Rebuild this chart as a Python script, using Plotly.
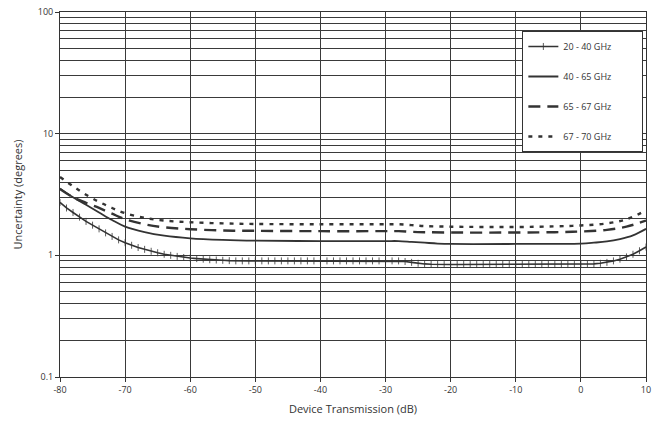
import plotly.graph_objects as go

# ---- data ----
x_2040 = list(range(-80, 11))
y_2040 = [2.72, 2.45, 2.25, 2.06, 1.90, 1.77, 1.65, 1.53, 1.43, 1.34,
          1.27, 1.21, 1.16, 1.12, 1.08, 1.05, 1.02, 1.00, 0.98, 0.96,
          0.95, 0.94, 0.93, 0.92, 0.915, 0.91, 0.905, 0.90, 0.90, 0.90,
          0.90, 0.90, 0.90, 0.90, 0.90, 0.90, 0.90, 0.90, 0.90, 0.90,
          0.90, 0.90, 0.90, 0.90, 0.90, 0.90, 0.90, 0.90, 0.90, 0.90,
          0.90, 0.90, 0.90, 0.89, 0.875, 0.86, 0.85, 0.845, 0.84, 0.84,
          0.84, 0.84, 0.84, 0.84, 0.84, 0.84, 0.84, 0.84, 0.84, 0.84,
          0.84, 0.84, 0.84, 0.84, 0.84, 0.84, 0.84, 0.84, 0.84, 0.84,
          0.84, 0.845, 0.85, 0.86, 0.875, 0.90, 0.93, 0.97, 1.02, 1.09,
          1.17]

x_4065 = [-80, -78, -76, -74, -72, -70, -67, -64, -60, -55, -50, -40, -30,
          -28, -26, -24, -22, -20, -10, 0, 2, 4, 6, 8, 10]
y_4065 = [3.55, 3.0, 2.6, 2.25, 1.95, 1.72, 1.55, 1.45, 1.38, 1.34, 1.32,
          1.31, 1.31, 1.31, 1.29, 1.27, 1.25, 1.24, 1.24, 1.25, 1.27, 1.30,
          1.36, 1.46, 1.65]

x_6567 = [-80, -78, -76, -74, -72, -70, -67, -64, -60, -55, -50, -40, -30,
          -28, -26, -24, -20, -10, -4, 0, 4, 7, 10]
y_6567 = [3.5, 3.0, 2.7, 2.45, 2.2, 1.98, 1.8, 1.7, 1.64, 1.6, 1.59, 1.58,
          1.58, 1.58, 1.56, 1.55, 1.54, 1.54, 1.55, 1.57, 1.62, 1.72, 1.93]

x_6770 = [-80, -78, -76, -74, -72, -70, -67, -64, -60, -55, -50, -40, -30,
          -28, -26, -24, -20, -10, -4, 0, 4, 7, 10]
y_6770 = [4.4, 3.7, 3.15, 2.75, 2.45, 2.22, 2.03, 1.93, 1.87, 1.83, 1.81, 1.8,
          1.8, 1.8, 1.77, 1.74, 1.72, 1.71, 1.73, 1.76, 1.83, 1.98, 2.34]

names = ["20 - 40 GHz", "40 - 65 GHz", "65 - 67 GHz", "67 - 70 GHz"]
x_ticks = [-80, -70, -60, -50, -40, -30, -20, -10, 0, 10]
x_ticktext = ["-80", "-70", "-60", "-50", "-40", "-30", "-20", "-10", "0", "10"]
y_ticks = [0.1, 1, 10, 100]
y_ticktext = ["0.1", "1", "10", "100"]

INK = "#333333"
GRID = "#3a3a3a"
FONT = "Open Sans"
PAD = "\u00a0" * 11  # widens the legend box to the right like the reference

fig = go.Figure()
fig.add_trace(go.Scatter(
    x=x_2040, y=y_2040, name=names[0] + PAD, mode="lines+markers",
    line=dict(color=INK, width=1.6),
    marker=dict(symbol="line-ns", size=5, line=dict(color=INK, width=0.8)),
    legendgroup="a"))
fig.add_trace(go.Scatter(
    x=x_4065, y=y_4065, name=names[1] + PAD, mode="lines",
    line=dict(color=INK, width=1.8, shape="spline"), legendgroup="b"))
fig.add_trace(go.Scatter(
    x=x_6567, y=y_6567, name=names[2] + PAD, mode="lines",
    line=dict(color=INK, width=2.4, dash="12px,7px", shape="spline"),
    legendgroup="c"))
fig.add_trace(go.Scatter(
    x=x_6770, y=y_6770, name=names[3] + PAD, mode="lines",
    line=dict(color=INK, width=2.4, dash="4px,6px", shape="spline"),
    legendgroup="d"))

fig.update_layout(
    width=653, height=425,
    margin=dict(l=60, r=7, t=12, b=48),
    paper_bgcolor="white", plot_bgcolor="white",
    font=dict(family=FONT, size=9, color=INK),
    legend=dict(x=0.789, y=0.948, xanchor="left", yanchor="top",
                bgcolor="white", bordercolor=INK, borderwidth=1,
                font=dict(size=9, color=INK), tracegroupgap=11,
                itemwidth=30),
    showlegend=True,
)
fig.update_xaxes(
    range=[-80, 10], tickvals=x_ticks, ticktext=x_ticktext, ticks="outside",
    ticklen=4, tickcolor=INK, showline=True, linecolor=INK, linewidth=1,
    mirror=True, automargin=False,
    showgrid=True, gridcolor=GRID, gridwidth=1, zeroline=False,
    title=dict(text="Device Transmission (dB)", font=dict(size=11, color=INK),
               standoff=10),
    tickfont=dict(size=9, color=INK))
fig.update_yaxes(
    type="log", range=[-1, 2], tickvals=y_ticks, ticktext=y_ticktext,
    ticks="outside", ticklen=4, tickcolor=INK, showline=True, linecolor=INK,
    linewidth=1, mirror=True, automargin=False,
    showgrid=True, gridcolor=GRID, gridwidth=1,
    minor=dict(dtick="D1", showgrid=True, gridcolor=GRID, gridwidth=1,
               ticks=""),
    title=dict(text="Uncertainty (degrees)", font=dict(size=11, color=INK),
               standoff=12),
    tickfont=dict(size=9, color=INK))

fig.write_html("out.html",
               config={"displayModeBar": False},
               post_script="document.body.style.margin='0';"
                           "document.body.style.overflow='hidden';")
